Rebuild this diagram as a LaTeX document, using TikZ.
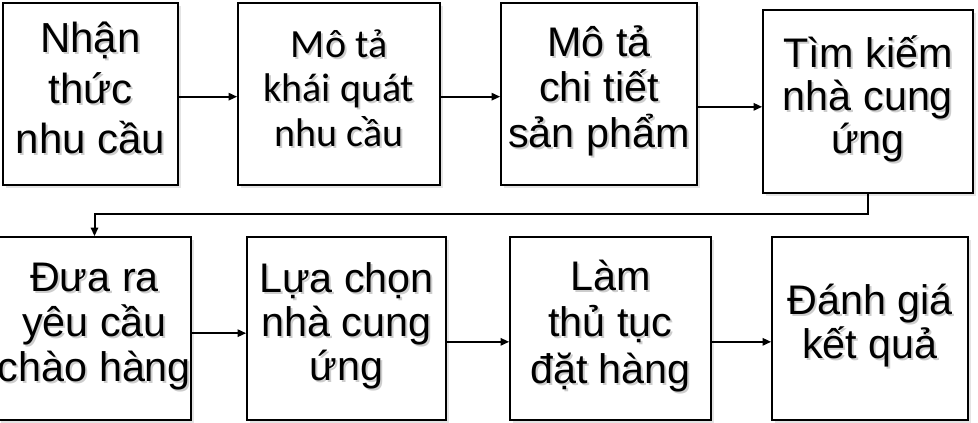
\documentclass[tikz,border=0pt]{standalone}
\usepackage{fontspec}
\setmainfont{Liberation Sans}
\newfontfamily\calfont{Carlito}
\usetikzlibrary{arrows.meta,calc,positioning,shadows}
\definecolor{textshadow}{RGB}{205,205,205}
\definecolor{boxshadow}{RGB}{228,228,228}
\tikzset{
  stepbox/.style   = {draw, line width=1.2pt, fill=white, inner sep=0pt,
                      drop shadow={shadow xshift=2pt, shadow yshift=-2pt,
                                   fill=boxshadow, opacity=1},
                      font=\fontsize{31}{34}\selectfont},
  boxsize/.style 2 args = {minimum width=#1*0.75pt, minimum height=#2*0.75pt},
  flow/.style      = {-{Triangle[length=6.5pt,width=5.5pt]}, line width=1.5pt},
}
% text with a light grey shadow behind it
\newcommand{\shadowtext}[1]{%
  \leavevmode\rlap{\kern1.5pt\raisebox{-1.5pt}{\color{textshadow}%
    \begin{tabular}{@{}c@{}}#1\end{tabular}}}%
  \begin{tabular}{@{}c@{}}#1\end{tabular}}

\begin{document}
\begin{tikzpicture}[x=0.75pt,y=-0.75pt]
  \useasboundingbox (0,0) rectangle (978,422);

  % ---------------- first row ---------------------------------------------
  \node[stepbox,boxsize={175}{182},font=\fontsize{31.5}{38}\selectfont] (nhanthuc) at (90.5,94)
       {\shadowtext{Nhận\\ thức\\ nhu cầu}};
  \node[stepbox,boxsize={202}{182},font=\calfont\fontsize{30}{33.5}\selectfont] (motakq) at (339,94)
       {\shadowtext{Mô tả\\ khái quát\\ nhu cầu}};
  \node[stepbox,boxsize={196}{182},font=\fontsize{31}{33}\selectfont] (motact) at (599,94)
       {\shadowtext{Mô tả\\ chi tiết\\ sản phẩm}};
  \node[stepbox,boxsize={210}{183},font=\fontsize{31}{31.5}\selectfont] (timkiem) at (868,101.5)
       {\shadowtext{Tìm kiếm\\ nhà cung\\ ứng}};

  % ---------------- second row --------------------------------------------
  \node[stepbox,boxsize={183}{183}] (duara) at (94.5,328.5)
       {\shadowtext{Đưa ra\\ yêu cầu\\ chào hàng}};
  \node[stepbox,boxsize={199}{183},font=\fontsize{31}{33}\selectfont] (luachon) at (346.5,328.5)
       {\shadowtext{Lựa chọn\\ nhà cung\\ ứng}};
  \node[stepbox,boxsize={201}{183},font=\fontsize{31}{35}\selectfont] (lamthutuc) at (610.5,328.5)
       {\shadowtext{Làm\\ thủ tục\\ đặt hàng}};
  \node[stepbox,boxsize={196}{183},font=\fontsize{31}{30}\selectfont] (danhgia) at (870,328.5)
       {\shadowtext{Đánh giá\\ kết quả}};

  % ---------------- connectors --------------------------------------------
  \coordinate (in2) at ([yshift=-2pt]motakq.west);
  \coordinate (in3) at ([yshift=-2pt]motact.west);
  \coordinate (in4) at ([yshift=-4pt]timkiem.west);
  \coordinate (in6) at ([yshift=-3.5pt]luachon.west);
  \coordinate (in7) at ([yshift=-10pt]lamthutuc.west);
  \coordinate (in8) at ([yshift=-10pt]danhgia.west);

  \draw[flow] (nhanthuc.east |- in2) -- (in2);
  \draw[flow] (motakq.east |- in3) -- (in3);
  \draw[flow] (motact.east |- in4) -- (in4);
  \draw[flow] (timkiem.south) -- ++(0,20) -| (duara.north);
  \draw[flow] (duara.east |- in6) -- (in6);
  \draw[flow] (luachon.east |- in7) -- (in7);
  \draw[flow] (lamthutuc.east |- in8) -- (in8);
\end{tikzpicture}
\end{document}
